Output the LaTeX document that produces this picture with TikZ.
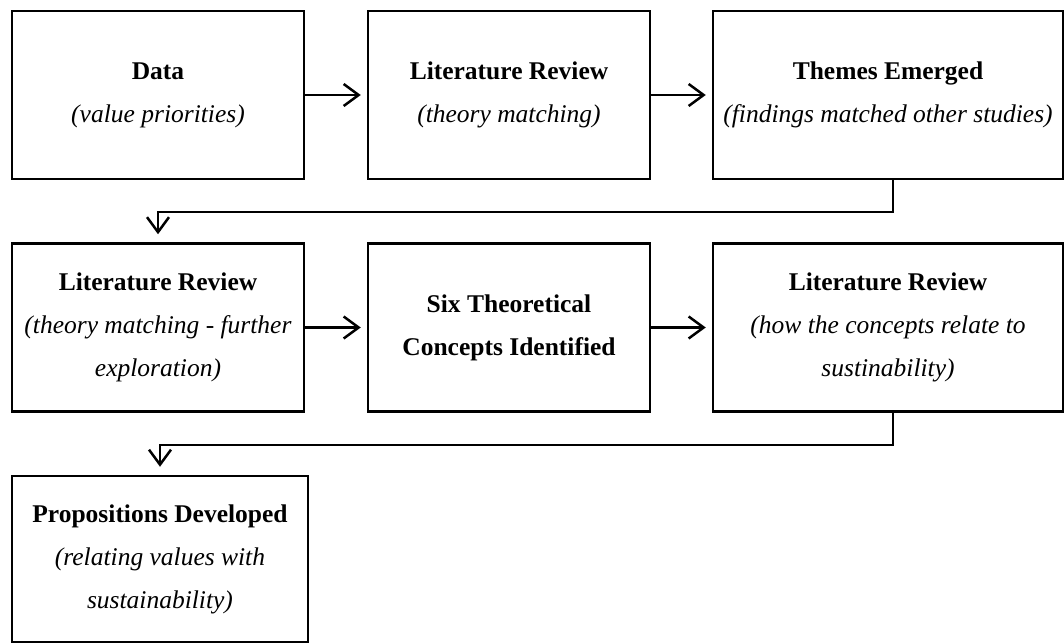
\documentclass[tikz,border=0pt]{standalone}
\usepackage{fontspec}
\setmainfont{Liberation Serif}
\usetikzlibrary{arrows.meta}

\begin{document}
\begin{tikzpicture}[x=1pt,y=-1pt,>={Straight Barb[length=15pt,width=22pt,line width=2.5pt]},
    every path/.style={line width=2.5pt},
    stage/.style={draw, align=center, inner sep=0pt, minimum height=168pt,
        font=\fontsize{25.5}{43}\selectfont}]
    \useasboundingbox (0,0) rectangle (1064,644);

    \node[stage, minimum width=292pt](1) at (158,95) {\textbf{Data}\\\textit{(value priorities)}};
    \node[stage, minimum width=282pt](2) at (509,95) {\textbf{Literature Review}\\\textit{(theory matching)}};
    \node[stage, minimum width=350pt](3) at (888,95) {\textbf{Themes Emerged}\\\textit{(findings matched other studies)}};
    \node[stage, minimum width=292pt](4) at (158,327.5) {\textbf{Literature Review}\\\textit{(theory matching - further}\\\textit{exploration)}};
    \node[stage, minimum width=282pt](5) at (509,327.5) {\textbf{Six Theoretical}\\\textbf{Concepts Identified}};
    \node[stage, minimum width=350pt](6) at (888,327.5) {\textbf{Literature Review}\\\textit{(how the concepts relate to}\\\textit{sustinability)}};
    \node[stage, minimum width=296pt, minimum height=166pt](7) at (160,559) {\textbf{Propositions Developed}\\\textit{(relating values with}\\\textit{sustainability)}};

    \foreach \k/\l in {1/2, 2/3, 4/5, 5/6}{\draw[->, shorten >=6pt](\k)--(\l);}
    \foreach \k/\l in {3/4, 6/7}{
        \draw[->, shorten >=8pt]([xshift=5pt]\k.south) -- ++(0,32) -| (\l.north);
    }
\end{tikzpicture}
\end{document}
